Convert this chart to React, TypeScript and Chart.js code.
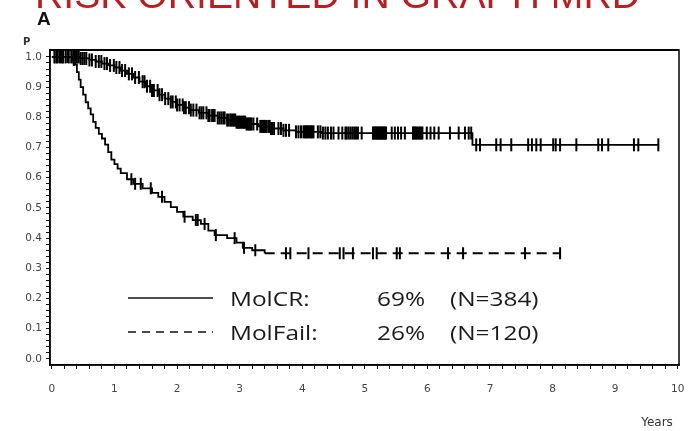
import React, { useEffect, useRef } from 'react';
import { Chart, registerables } from 'chart.js';

Chart.register(...registerables);

const titleText = 'RISK ORIENTED IN GRAPH MRD';
const panelLabel = 'A';
const yAxisTitle = 'P';
const xAxisTitle = 'Years';

const xTickLabels = ['0', '1', '2', '3', '4', '5', '6', '7', '8', '9', '10'];
const yTickLabels = ['0.0', '0.1', '0.2', '0.3', '0.4', '0.5', '0.6', '0.7', '0.8', '0.9', '1.0'];

const seriesNames = ['MolCR:', 'MolFail:'];
const seriesPct = ['69%', '26%'];
const seriesN = ['(N=384)', '(N=120)'];

// MolCR Kaplan-Meier steps (time in years, survival after step)
const molCrTimes = [0, 0.45, 0.6, 0.7, 0.8, 0.9, 1.0, 1.1, 1.2, 1.3, 1.4, 1.5, 1.6, 1.7, 1.8, 1.9, 2.0, 2.1, 2.2, 2.35, 2.5, 2.65, 2.8, 2.95, 3.1, 3.3, 3.5, 3.7, 3.9, 4.3, 6.72, 9.69];
const molCrSurv = [1.0, 0.995, 0.99, 0.985, 0.978, 0.972, 0.965, 0.955, 0.944, 0.932, 0.918, 0.903, 0.889, 0.875, 0.862, 0.851, 0.841, 0.832, 0.824, 0.815, 0.806, 0.798, 0.791, 0.784, 0.778, 0.77, 0.763, 0.757, 0.752, 0.748, 0.709, 0.709];

// MolFail Kaplan-Meier steps
const molFailTimes = [0, 0.33, 0.37, 0.4, 0.43, 0.46, 0.5, 0.54, 0.58, 0.62, 0.66, 0.7, 0.75, 0.8, 0.85, 0.9, 0.95, 1.0, 1.05, 1.1, 1.2, 1.3, 1.45, 1.6, 1.7, 1.8, 1.9, 2.0, 2.1, 2.25, 2.38, 2.5, 2.6, 2.8, 2.95, 3.05, 3.2, 3.4, 8.12];
const molFailSurv = [1.0, 0.99, 0.975, 0.95, 0.925, 0.9, 0.875, 0.85, 0.83, 0.81, 0.785, 0.765, 0.745, 0.73, 0.71, 0.685, 0.66, 0.645, 0.63, 0.615, 0.595, 0.58, 0.565, 0.55, 0.537, 0.52, 0.503, 0.487, 0.471, 0.46, 0.447, 0.425, 0.41, 0.4, 0.385, 0.368, 0.36, 0.35, 0.35];

// Censoring times
const molCrCensor = [0.04, 0.07, 0.09, 0.13, 0.16, 0.18, 0.22, 0.27, 0.31, 0.34, 0.37, 0.4, 0.43, 0.46, 0.49, 0.52, 0.55, 0.6, 0.64, 0.7, 0.75, 0.79, 0.84, 0.88, 0.93, 0.99, 1.03, 1.08, 1.12, 1.17, 1.23, 1.28, 1.33, 1.39, 1.45, 1.48, 1.52, 1.57, 1.6, 1.63, 1.69, 1.72, 1.76, 1.81, 1.86, 1.9, 1.93, 1.98, 2.0, 2.04, 2.09, 2.11, 2.14, 2.19, 2.22, 2.26, 2.31, 2.36, 2.39, 2.42, 2.47, 2.5, 2.52, 2.56, 2.58, 2.6, 2.65, 2.68, 2.71, 2.74, 2.76, 2.8, 2.82, 2.85, 2.87, 2.89, 2.91, 2.93, 2.95, 2.97, 2.99, 3.01, 3.03, 3.05, 3.07, 3.09, 3.11, 3.13, 3.15, 3.17, 3.19, 3.22, 3.28, 3.33, 3.35, 3.37, 3.39, 3.41, 3.43, 3.46, 3.48, 3.5, 3.52, 3.55, 3.62, 3.66, 3.7, 3.74, 3.79, 3.9, 3.94, 3.98, 4.02, 4.04, 4.06, 4.08, 4.1, 4.12, 4.14, 4.16, 4.18, 4.25, 4.29, 4.33, 4.37, 4.41, 4.46, 4.5, 4.58, 4.64, 4.69, 4.71, 4.74, 4.77, 4.8, 4.83, 4.86, 4.89, 4.95, 5.13, 5.14, 5.16, 5.17, 5.19, 5.2, 5.22, 5.23, 5.25, 5.26, 5.28, 5.29, 5.31, 5.32, 5.34, 5.43, 5.48, 5.53, 5.58, 5.64, 5.77, 5.78, 5.8, 5.82, 5.84, 5.86, 5.88, 5.9, 5.92, 5.99, 6.05, 6.11, 6.18, 6.36, 6.5, 6.6, 6.66, 6.7, 6.78, 6.84, 7.1, 7.17, 7.34, 7.61, 7.67, 7.74, 7.81, 8.01, 8.05, 8.12, 8.38, 8.73, 8.79, 8.89, 9.3, 9.37, 9.69];
const molFailCensor = [0.12, 0.25, 0.35, 1.27, 1.33, 1.42, 1.58, 1.76, 2.12, 2.3, 2.33, 2.44, 2.62, 2.92, 3.07, 3.25, 3.74, 3.81, 4.1, 4.6, 4.66, 4.81, 5.13, 5.19, 5.51, 5.56, 6.33, 6.57, 7.56, 8.12];

function survAt(times: number[], surv: number[], t: number): number {
  let v = surv[0];
  for (let i = 0; i < times.length; i++) {
    if (times[i] <= t) v = surv[i];
    else break;
  }
  return v;
}

const xTickValues: number[] = [];
xTickLabels.forEach((_, i) => {
  for (let j = 0; j < 5; j++) {
    if (i === xTickLabels.length - 1 && j > 0) break;
    xTickValues.push(Math.round((i + j * 0.2) * 1000) / 1000);
  }
});
const yTickValues: number[] = [];
yTickLabels.forEach((_, i) => {
  for (let j = 0; j < 5; j++) {
    if (i === yTickLabels.length - 1 && j > 0) break;
    yTickValues.push(Math.round((i * 0.1 + j * 0.02) * 1000) / 1000);
  }
});

const decorPlugin = {
  id: 'decor',
  afterDraw(chart: any) {
    const { ctx, chartArea: a } = chart;
    ctx.save();
    // frame
    ctx.strokeStyle = '#000';
    ctx.lineWidth = 1.5;
    ctx.setLineDash([]);
    ctx.strokeRect(a.left, a.top, a.right - a.left, a.bottom - a.top);
    ctx.lineWidth = 2;
    ctx.beginPath();
    ctx.moveTo(a.left, a.top);
    ctx.lineTo(a.right, a.top);
    ctx.stroke();

    // clipped red slide title
    ctx.fillStyle = '#b81f22';
    ctx.font = '39px "Liberation Sans", Arial, sans-serif';
    ctx.textBaseline = 'alphabetic';
    ctx.textAlign = 'left';
    const tw = ctx.measureText(titleText).width;
    ctx.save();
    ctx.translate(35, 8);
    ctx.scale(605 / tw, 1);
    ctx.fillText(titleText, 0, 0);
    ctx.restore();

    // panel label and axis titles
    ctx.fillStyle = '#111';
    ctx.font = 'bold 19px "Liberation Sans", Arial, sans-serif';
    ctx.fillText(panelLabel, 37, 25);
    ctx.font = 'bold 10px "DejaVu Sans", sans-serif';
    ctx.fillStyle = '#333';
    ctx.fillText(yAxisTitle, 23, 45);
    ctx.font = '12px "DejaVu Sans", sans-serif';
    ctx.textAlign = 'center';
    ctx.fillText(xAxisTitle, 657, 426);

    // legend
    ctx.strokeStyle = '#111';
    ctx.lineWidth = 1.5;
    ctx.beginPath();
    ctx.moveTo(128, 298);
    ctx.lineTo(213, 298);
    ctx.stroke();
    ctx.setLineDash([8, 6]);
    ctx.beginPath();
    ctx.moveTo(128, 332);
    ctx.lineTo(213, 332);
    ctx.stroke();
    ctx.setLineDash([]);

    ctx.fillStyle = '#1a1a1a';
    ctx.font = '20px "Open Sans", sans-serif';
    ctx.textAlign = 'left';
    const rows = [306, 340];
    const cols = [230, 377, 450];
    rows.forEach((y, r) => {
      [seriesNames[r], seriesPct[r], seriesN[r]].forEach((txt, c) => {
        ctx.save();
        ctx.translate(cols[c], y);
        ctx.scale(1.22, 1);
        ctx.fillText(txt, 0, 0);
        ctx.restore();
      });
    });
    ctx.restore();
  },
};

export default function App() {
  const ref = useRef<HTMLCanvasElement | null>(null);
  useEffect(() => {
    if (!ref.current) return;
    const crLine = molCrTimes.map((t, i) => ({ x: t, y: molCrSurv[i] }));
    const failLine = molFailTimes.map((t, i) => ({ x: t, y: molFailSurv[i] }));
    const crCens = molCrCensor.map((t) => ({ x: t, y: survAt(molCrTimes, molCrSurv, t) }));
    const failCens = molFailCensor.map((t) => ({ x: t, y: survAt(molFailTimes, molFailSurv, t) }));
    const tickFont = { family: '"DejaVu Sans", sans-serif', size: 10.5 };
    const chart = new Chart(ref.current, {
      type: 'scatter',
      data: {
        datasets: [
          { label: 'MolCR', data: crLine, showLine: true, stepped: 'before', borderColor: '#000', borderWidth: 1.8, pointRadius: 0, fill: false },
          {
            label: 'MolFail',
            data: failLine,
            showLine: true,
            stepped: 'before',
            borderColor: '#000',
            borderWidth: 1.8,
            borderDash: [10, 6],
            pointRadius: 0,
            fill: false,
            segment: {
              borderDash: (c: any) => (Math.abs(c.p1.x - c.p0.x) < 14 ? [] : [10, 6]),
            },
          },
          { label: 'MolCR censored', data: crCens, showLine: false, pointStyle: 'line', rotation: 90, pointRadius: 6.5, borderColor: '#000', backgroundColor: '#000', borderWidth: 2 },
          { label: 'MolFail censored', data: failCens, showLine: false, pointStyle: 'line', rotation: 90, pointRadius: 6, borderColor: '#000', backgroundColor: '#000', borderWidth: 2 },
        ],
      } as any,
      options: {
        animation: false,
        responsive: false,
        devicePixelRatio: 1,
        layout: { padding: { left: 0, top: 50, right: 10, bottom: 0 } },
        plugins: { legend: { display: false }, tooltip: { enabled: false }, title: { display: false } },
        scales: {
          x: {
            type: 'linear',
            min: -0.03,
            max: 10.02,
            afterBuildTicks: (scale: any) => {
              scale.ticks = xTickValues.map((v) => ({ value: v }));
            },
            afterFit: (scale: any) => {
              scale.height = 66;
              scale.paddingLeft = 0;
              scale.paddingRight = 0;
            },
            ticks: {
              autoSkip: false,
              maxRotation: 0,
              padding: 14,
              color: '#444',
              font: tickFont,
              callback: (_v: any, idx: number) => (idx % 5 === 0 ? xTickLabels[idx / 5] : ''),
            },
            grid: { display: true, drawOnChartArea: false, drawTicks: true, tickLength: 4, color: '#111', lineWidth: 1 },
            border: { display: true, color: '#000', width: 1.5 },
          },
          y: {
            type: 'linear',
            min: -0.02,
            max: 1.023,
            afterBuildTicks: (scale: any) => {
              scale.ticks = yTickValues.map((v) => ({ value: v }));
            },
            afterFit: (scale: any) => {
              scale.width = 50;
              scale.paddingTop = 0;
              scale.paddingBottom = 0;
            },
            ticks: {
              autoSkip: false,
              padding: 4,
              color: '#444',
              font: tickFont,
              callback: (_v: any, idx: number) => (idx % 5 === 0 ? yTickLabels[idx / 5] : ''),
            },
            grid: { display: true, drawOnChartArea: false, drawTicks: true, tickLength: 4, color: '#111', lineWidth: 1 },
            border: { display: true, color: '#000', width: 1.5 },
          },
        },
      } as any,
      plugins: [decorPlugin],
    });
    return () => chart.destroy();
  }, []);
  return (
    <div style={{ position: 'fixed', left: 0, top: 0, width: 689, height: 431, background: '#fff' }}>
      <canvas ref={ref} width={689} height={431} style={{ display: 'block', width: 689, height: 431 }} />
    </div>
  );
}
